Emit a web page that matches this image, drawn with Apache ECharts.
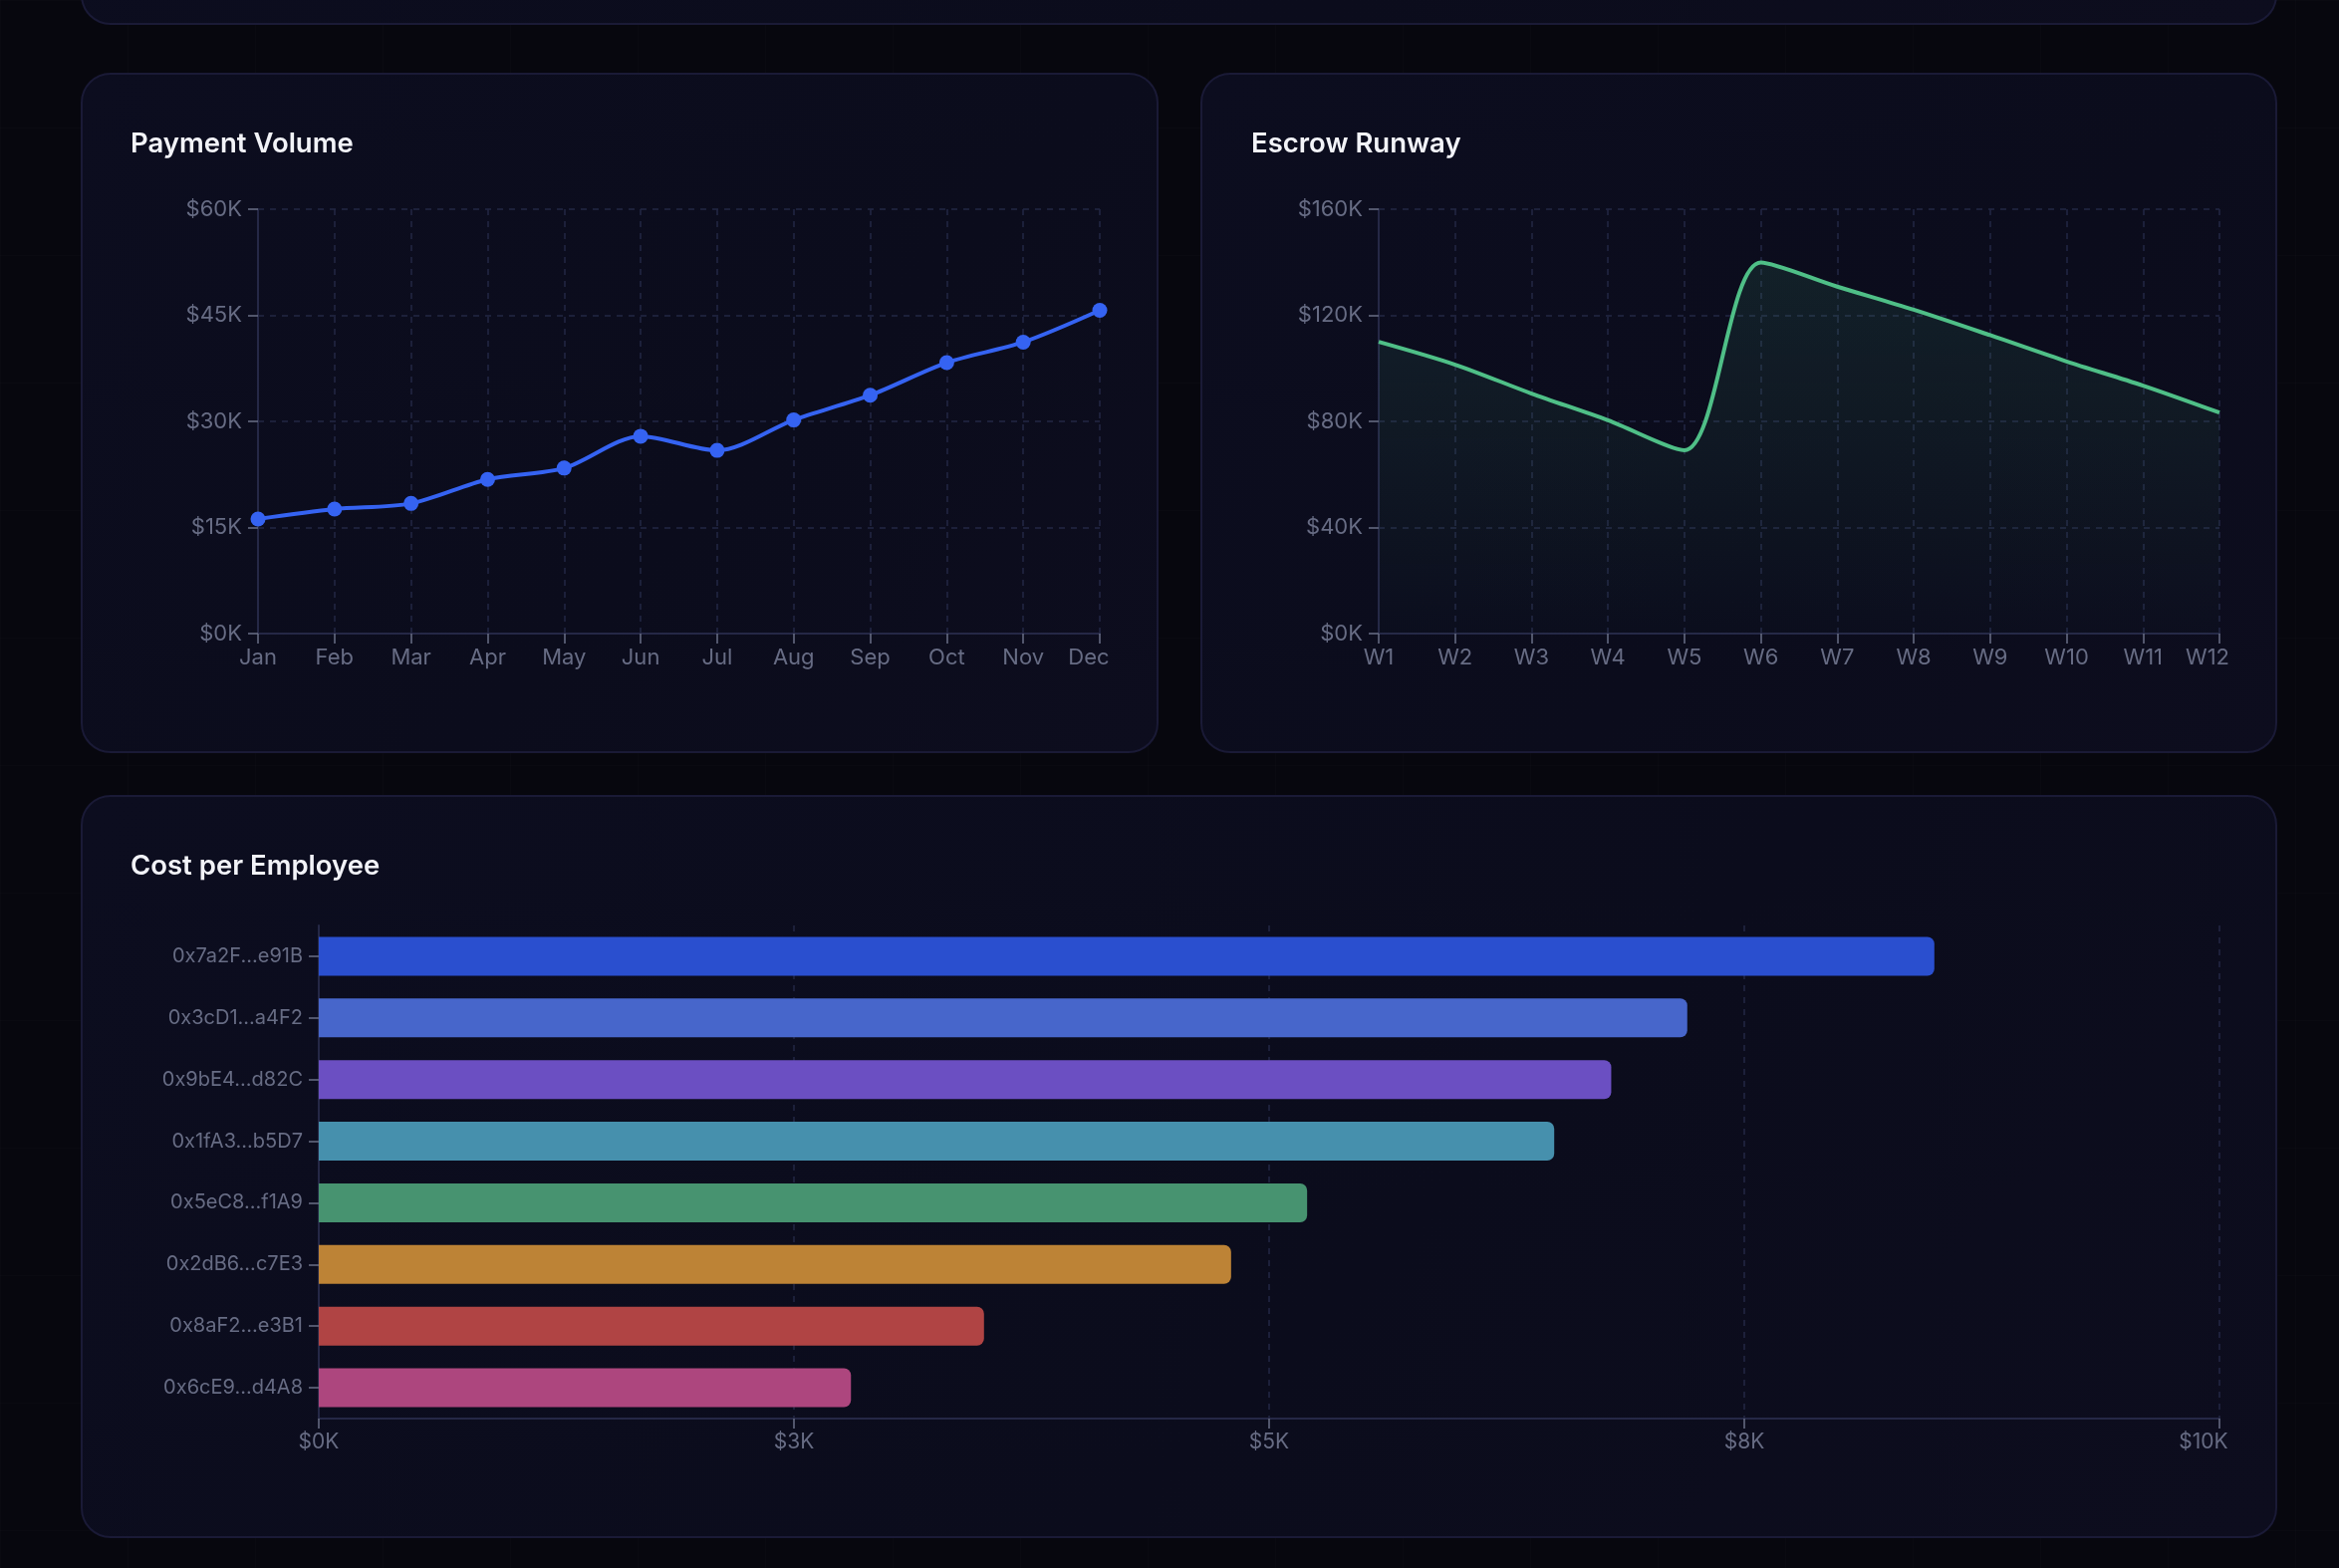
<!DOCTYPE html>
<html style="height: 100%">
  <head>
    <meta charset="UTF-8" />
    <title>Payroll dashboard</title>
    <script src="https://cdn.jsdelivr.net/npm/echarts@6/dist/echarts.min.js"></script>
    <style>
      body {
        margin: 0;
        width: 2348px;
        height: 1574px;
        position: relative;
        overflow: hidden;
        background-color: #07070e;
        background-image:
          linear-gradient(rgba(255, 255, 255, 0.012) 1px, transparent 1px),
          linear-gradient(90deg, rgba(255, 255, 255, 0.012) 1px, transparent 1px);
        background-size: 128px 128px;
        font-family: Inter, 'Noto Sans', sans-serif;
      }
      .card {
        position: absolute;
        box-sizing: border-box;
        background: linear-gradient(135deg, #0c0d1f 0%, #0b0c1c 60%, #0d0d1e 100%);
        border: 2px solid #1a1a36;
        border-radius: 30px;
      }
      #main {
        position: absolute;
        left: 0;
        top: 0;
        width: 2348px;
        height: 1574px;
      }
    </style>
  </head>
  <body>
    <div class="card" style="left: 81px; top: -200px; width: 2205px; height: 225px"></div>
    <div class="card" style="left: 81px; top: 73px; width: 1082px; height: 683px"></div>
    <div class="card" style="left: 1205px; top: 73px; width: 1081px; height: 683px"></div>
    <div class="card" style="left: 81px; top: 798px; width: 2205px; height: 746px"></div>
    <div id="main"></div>
    <script>
      const months = ['Jan', 'Feb', 'Mar', 'Apr', 'May', 'Jun', 'Jul', 'Aug', 'Sep', 'Oct', 'Nov', 'Dec']
      const paymentVolume = [16200, 17600, 18400, 21800, 23400, 27900, 25900, 30200, 33700, 38300, 41200, 45700]

      const weeks = ['W1', 'W2', 'W3', 'W4', 'W5', 'W6', 'W7', 'W8', 'W9', 'W10', 'W11', 'W12']
      const escrowBalance = [110000, 101400, 90500, 80400, 69100, 139900, 130800, 122100, 112500, 102600, 93500, 83300]

      const employees = [
        '0x7a2F...e91B',
        '0x3cD1...a4F2',
        '0x9bE4...d82C',
        '0x1fA3...b5D7',
        '0x5eC8...f1A9',
        '0x2dB6...c7E3',
        '0x8aF2...e3B1',
        '0x6cE9...d4A8',
      ]
      const employeeCost = [8500, 7200, 6800, 6500, 5200, 4800, 3500, 2800]
      const barColors = ['#2a4fcf', '#4766cb', '#6b4fc2', '#4690ad', '#479370', '#bd8336', '#b04444', '#ad467e']

      const chart = echarts.init(document.getElementById('main'))

      const labelColor = '#676c84'
      const gridLine = { show: true, interval: 0, lineStyle: { color: '#232744', type: [6, 6], width: 1.5 } }
      const axisLine = { show: true, lineStyle: { color: '#252846', width: 2 } }
      const axisTick = { show: true, interval: 0, length: 10, lineStyle: { color: '#6a6f86', width: 1.5 } }
      const kFmt = (v) => '$' + Math.round(v / 1000) + 'K'
      const titleStyle = { color: '#f2f3f8', fontSize: 27.5, fontWeight: 600, fontFamily: 'Inter' }

      // the last label of each x axis sits pulled in toward the card edge
      const lastCat = (cats) => (v, i) => (i === cats.length - 1 ? '{last|' + v + '}' : v)
      const lastRich = (shift, size) => ({ last: { padding: [0, shift * 2, 0, 0], color: labelColor, fontSize: size } })

      const option = {
        textStyle: { fontFamily: 'Inter' },
        animation: false,
        title: [
          { text: 'Payment Volume', left: 126, top: 126, textStyle: titleStyle },
          { text: 'Escrow Runway', left: 1251, top: 126, textStyle: titleStyle },
          { text: 'Cost per Employee', left: 126, top: 851, textStyle: titleStyle },
        ],
        grid: [
          { left: 259, top: 210, width: 845, height: 426 },
          { left: 1384, top: 210, width: 844, height: 426 },
          { left: 320, top: 929, width: 1908, height: 495 },
        ],
        xAxis: [
          {
            gridIndex: 0,
            type: 'category',
            data: months,
            boundaryGap: false,
            axisLine,
            axisTick,
            splitLine: gridLine,
            axisLabel: {
              interval: 0,
              color: labelColor,
              fontSize: 22,
              margin: 13,
              formatter: lastCat(months),
              rich: lastRich(11, 22),
            },
          },
          {
            gridIndex: 1,
            type: 'category',
            data: weeks,
            boundaryGap: false,
            axisLine,
            axisTick,
            splitLine: gridLine,
            axisLabel: {
              interval: 0,
              color: labelColor,
              fontSize: 22,
              margin: 13,
              formatter: lastCat(weeks),
              rich: lastRich(12, 22),
            },
          },
          {
            gridIndex: 2,
            type: 'value',
            min: 0,
            max: 10000,
            interval: 2500,
            axisLine,
            axisTick,
            splitLine: gridLine,
            axisLabel: {
              color: labelColor,
              fontSize: 21,
              margin: 13,
              formatter: (v) => (v === 10000 ? '{last|' + kFmt(v) + '}' : kFmt(v)),
              rich: lastRich(16, 21),
            },
          },
        ],
        yAxis: [
          {
            gridIndex: 0,
            type: 'value',
            min: 0,
            max: 60000,
            interval: 15000,
            axisLine,
            axisTick,
            splitLine: gridLine,
            axisLabel: { color: labelColor, fontSize: 22, margin: 16, formatter: kFmt },
          },
          {
            gridIndex: 1,
            type: 'value',
            min: 0,
            max: 160000,
            interval: 40000,
            axisLine,
            axisTick,
            splitLine: gridLine,
            axisLabel: { color: labelColor, fontSize: 22, margin: 16, formatter: kFmt },
          },
          {
            gridIndex: 2,
            type: 'category',
            data: employees,
            inverse: true,
            axisLine,
            axisTick: { show: true, alignWithLabel: true, length: 10, lineStyle: { color: '#6a6f86', width: 1.5 } },
            splitLine: { show: false },
            axisLabel: { interval: 0, color: labelColor, fontSize: 20, margin: 16 },
          },
        ],
        series: [
          {
            type: 'line',
            xAxisIndex: 0,
            yAxisIndex: 0,
            data: paymentVolume,
            smooth: 0.3,
            symbol: 'circle',
            symbolSize: 15,
            lineStyle: { color: '#3563f2', width: 4 },
            itemStyle: { color: '#3563f2' },
          },
          {
            type: 'line',
            xAxisIndex: 1,
            yAxisIndex: 1,
            data: escrowBalance,
            smooth: 0.3,
            symbol: 'none',
            lineStyle: { color: '#4fbf87', width: 4 },
            areaStyle: {
              color: new echarts.graphic.LinearGradient(0, 0, 0, 1, [
                { offset: 0, color: 'rgba(79, 191, 135, 0.17)' },
                { offset: 1, color: 'rgba(79, 191, 135, 0.02)' },
              ]),
            },
          },
          {
            type: 'bar',
            xAxisIndex: 2,
            yAxisIndex: 2,
            barWidth: 39,
            data: employeeCost.map((v, i) => ({
              value: v,
              itemStyle: { color: barColors[i], borderRadius: [0, 7, 7, 0] },
            })),
          },
        ],
      }

      chart.setOption(option)
    </script>
  </body>
</html>
